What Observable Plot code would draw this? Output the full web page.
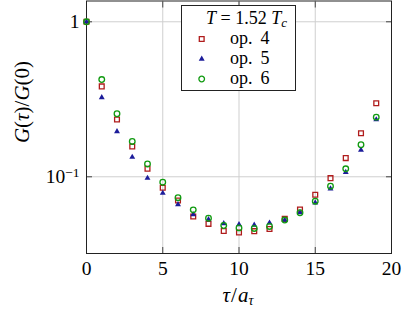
<!DOCTYPE html>
<html><head><meta charset="utf-8">
<script src="https://cdn.jsdelivr.net/npm/d3@7"></script>
<script src="https://cdn.jsdelivr.net/npm/@observablehq/plot@0.6"></script>
<style>body{margin:0;background:#fff}#chart{position:relative;width:407px;height:313px}</style>
</head><body><div id="chart"></div>
<script>
const tau = [0,1,2,3,4,5,6,7,8,9,10,11,12,13,14,15,16,17,18,19];
const op4 = [1,0.383,0.234,0.157,0.1127,0.0849,0.0703,0.0554,0.0497,0.0447,0.0437,0.0446,0.0460,0.0535,0.0615,0.0766,0.098,0.132,0.191,0.298];
const op5 = [1,0.325,0.196,0.134,0.098,0.0784,0.0663,0.0571,0.053,0.050,0.0492,0.0489,0.0504,0.0526,0.0588,0.068,0.0837,0.107,0.149,0.234];
const op6 = [1,0.424,0.255,0.169,0.121,0.0923,0.0733,0.0612,0.054,0.0485,0.0468,0.0464,0.0478,0.0526,0.0586,0.0696,0.087,0.1126,0.161,0.2425];
const xTicks = [0,5,10,15,20];
const yTicks = [1,0.1];
const seriesNames = ["op.\u2009 4","op.\u2009 5","op.\u2009 6"];
const colors = ["#b01c1c","#1c1c9a","#109a10"];

const rows = s => tau.map((t,i)=>({tau:t, g:s[i]}));
const d4 = rows(op4), d5 = rows(op5), d6 = rows(op6);

const plot = Plot.plot({
  width:407, height:313,
  marginLeft:86, marginRight:16, marginTop:0.5, marginBottom:60,
  style:{fontFamily:"'Liberation Serif', serif", fontSize:"19.5px", color:"#000", background:"#fff"},
  x:{domain:[0,20]},
  y:{type:"log", domain:[0.03199,1.362]},
  marks:[
    Plot.gridX([5,10,15], {stroke:"#cfcfcf", strokeOpacity:1}),
    Plot.gridY(yTicks, {stroke:"#cfcfcf", strokeOpacity:1}),
    Plot.axisX({ticks:xTicks, tickSize:0, tickPadding:8, label:null}),
    Plot.axisX({ticks:xTicks, tickSize:-6, fill:"none", stroke:"#444", label:null}),
    Plot.axisX({ticks:xTicks, anchor:"top", tickSize:-6, fill:"none", stroke:"#444", label:null}),
    Plot.axisY({ticks:yTicks, tickSize:0, tickPadding:7, label:null, tickFormat:d=> d===1 ? "1" : "10"}),
    Plot.axisY({ticks:yTicks, tickSize:-6, fill:"none", stroke:"#444", label:null}),
    Plot.axisY({ticks:yTicks, anchor:"right", tickSize:-6, fill:"none", stroke:"#444", label:null}),
    Plot.frame({stroke:"#222"}),
    Plot.dot(d4, {x:"tau", y:"g", symbol:"square", r:2.7, stroke:colors[0], strokeWidth:1.3, fill:"none"}),
    Plot.dot(d5, {x:"tau", y:"g", symbol:"triangle", r:2.2, fill:colors[1], stroke:"none"}),
    Plot.dot(d6, {x:"tau", y:"g", symbol:"circle", r:2.8, stroke:colors[2], strokeWidth:1.3, fill:"none"})
  ]
});
document.getElementById("chart").appendChild(plot);

const svg = d3.select(plot);
const FF = "'Liberation Serif', serif";
svg.selectAll('g[aria-label="y-axis tick label"] text').each(function(){
  const t = d3.select(this);
  if (t.text() === "10") {
    t.append("tspan").attr("dy","-0.45em").attr("font-size","13.5px").text("\u22121");
  }
});
const xl = svg.append("text").attr("x",238).attr("y",302).attr("text-anchor","middle")
  .attr("font-family",FF).attr("font-size","21px");
xl.append("tspan").attr("font-style","italic").text("\u03c4");
xl.append("tspan").attr("dx","1").text("/");
xl.append("tspan").attr("font-style","italic").attr("dx","1").text("a");
xl.append("tspan").attr("font-style","italic").attr("font-size","14px").attr("dy","3").text("\u03c4");

const yl = svg.append("text").attr("transform","translate(29,102) rotate(-90)").attr("text-anchor","middle")
  .attr("font-family",FF).attr("font-size","21px");
yl.append("tspan").attr("font-style","italic").text("G");
yl.append("tspan").text("(");
yl.append("tspan").attr("font-style","italic").text("\u03c4");
yl.append("tspan").text(")/");
yl.append("tspan").attr("font-style","italic").text("G");
yl.append("tspan").text("(0)");

const lg = svg.append("g").attr("font-family",FF).attr("font-size","18px");
lg.append("rect").attr("x",181.5).attr("y",5.5).attr("width",114).attr("height",85).attr("fill","#fff").attr("stroke","#222");
const tt = lg.append("text").attr("x",246.5).attr("y",23.5).attr("text-anchor","middle");
tt.append("tspan").attr("font-style","italic").text("T");
tt.append("tspan").text(" = 1.52 ");
tt.append("tspan").attr("font-style","italic").text("T");
tt.append("tspan").attr("font-style","italic").attr("font-size","13px").attr("dy","3").text("c");
const syms = [d3.symbolSquare, d3.symbolTriangle, d3.symbolCircle];
const rs = [2.7, 2.2, 2.8];
seriesNames.forEach((n,i)=>{
  const cy = 39 + i*20;
  const p = lg.append("path").attr("transform",`translate(201.7,${cy})`)
    .attr("d", d3.symbol(syms[i], Math.PI*rs[i]*rs[i])());
  if (i===1) p.attr("fill",colors[i]);
  else p.attr("fill","none").attr("stroke",colors[i]).attr("stroke-width", 1.3);
  lg.append("text").attr("x",230).attr("y",cy+4.5).attr("text-anchor","start").text(n);
});
</script></body></html>
